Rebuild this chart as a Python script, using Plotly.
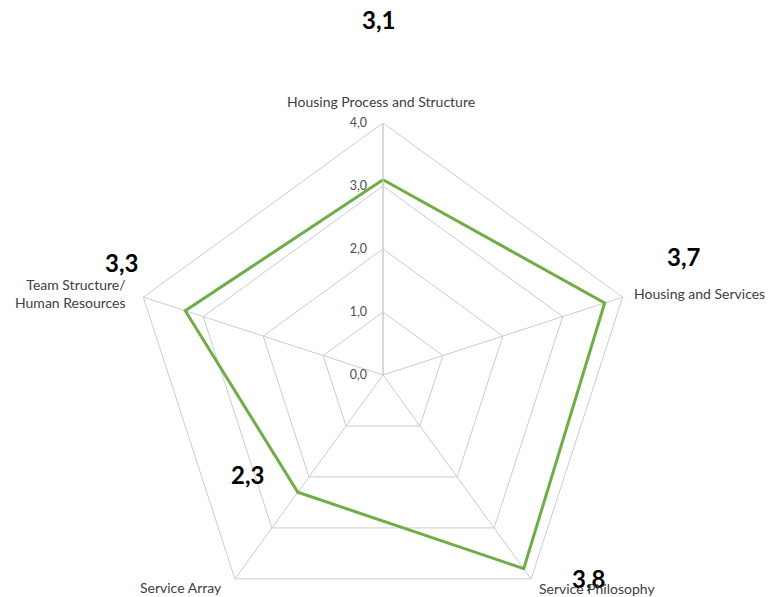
import plotly.graph_objects as go

categories = ["Housing Process and Structure", "Housing and Services", "Service Philosophy",
              "Service Array", "Team Structure/<br>Human Resources"]
values = [3.1, 3.7, 3.8, 2.3, 3.3]
radial_ticks = [0, 1, 2, 3, 4]

W, H = 773, 650
OFF = 8  # page body margin
# style: pixel anchors in the final picture
label_px = [(378, 19), (684, 256), (588, 578), (248, 474), (121, 262)]
cat_px = [(381, 101, "center"), (632, 294, "left"), (537, 588, "left"),
          (224, 587, "right"), (128, 293, "right")]

cx, cy, R = 383 - OFF, 375 - OFF, 252
xdom = [(cx - R) / W, (cx + R) / W]
ydom = [(H - cy - R) / H, (H - cy + R) / H]


def px2paper(px, py):
    return (px - OFF) / W, 1 - (py - OFF) / H


fig = go.Figure()
fig.add_trace(go.Scatterpolar(
    r=values + values[:1], theta=categories + categories[:1],
    mode="lines", line=dict(color="#70AD47", width=3), hoverinfo="skip"))

ann = []
for v, (px, py) in zip(values, label_px):
    x, y = px2paper(px, py)
    ann.append(dict(x=x, y=y, xref="paper", yref="paper",
                    text="<b>" + f"{v:.1f}".replace(".", ",") + "</b>", showarrow=False,
                    font=dict(size=24, color="#000000", family="Lato"),
                    xanchor="center", yanchor="middle", borderpad=0))
for c, (px, py, anc) in zip(categories, cat_px):
    x, y = px2paper(px, py)
    ann.append(dict(x=x, y=y, xref="paper", yref="paper", text=c, showarrow=False,
                    font=dict(size=14, color="#404040", family="Lato"),
                    xanchor=anc, yanchor="middle", align=anc if anc != "center" else "center"))

fig.update_layout(
    width=W, height=H, margin=dict(l=0, r=0, t=0, b=0),
    paper_bgcolor="white", plot_bgcolor="white", separators=", ",
    showlegend=False, font=dict(family="Lato", color="#404040"),
    annotations=ann,
    polar=dict(
        domain=dict(x=xdom, y=ydom), bgcolor="white", gridshape="linear",
        radialaxis=dict(range=[0, 4], tickvals=radial_ticks, tickformat=".1f",
                        angle=90, tickangle=90, side="counterclockwise", showline=True,
                        linecolor="#CCCCCC", linewidth=1, gridcolor="#CCCCCC",
                        ticks="outside", ticklen=11, tickcolor="rgba(0,0,0,0)",
                        tickfont=dict(size=12.5, color="#505050")),
        angularaxis=dict(rotation=90, direction="clockwise", showline=True,
                         linecolor="#CCCCCC", linewidth=1, gridcolor="#CCCCCC",
                         ticks="", showticklabels=False),
    ),
)
fig.write_html("out.html")
